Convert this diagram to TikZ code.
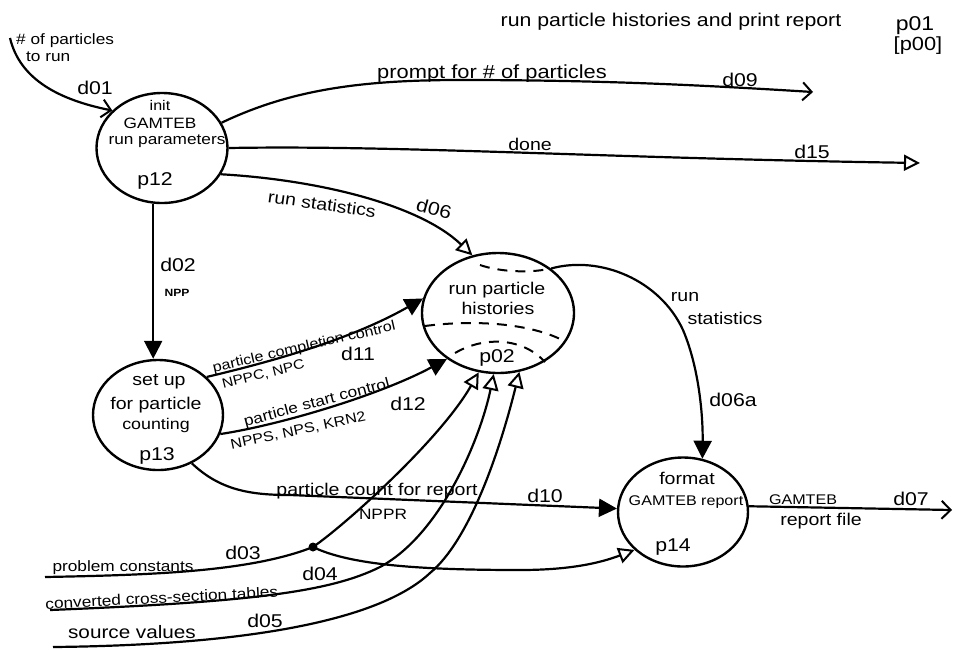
\documentclass[tikz,border=0pt]{standalone}
\usepackage{fontspec}
\setmainfont[FakeStretch=1.15]{Liberation Sans}
\usetikzlibrary{arrows.meta,shapes.geometric}
\begin{document}
\begin{tikzpicture}[x=1pt,y=-1pt,
  proc/.style={draw, ellipse, line width=2.4pt, inner sep=0pt},
  flow/.style={line width=2.2pt},
  fs/.style={font=\fontsize{#1}{#1}\selectfont},
  lbl/.style={fs=17, inner sep=0pt},
  sml/.style={fs=14, inner sep=0pt},
  big/.style={fs=18.5, inner sep=0pt},
  vtip/.style={-{Straight Barb[length=9pt,width=18pt,line width=2pt]}},
  otip/.style={-{Triangle[open,length=16pt,width=16pt,line width=2pt,fill=white]}},
  ftip/.style={-{Triangle[length=18pt,width=18pt]}},
  arcdash/.style={line width=2pt, dash pattern=on 10pt off 8pt},
]
\useasboundingbox (0,0) rectangle (953,649);

% processes
\node[proc, minimum width=131pt, minimum height=110pt] (p12) at (162,148) {};
\node[proc, minimum width=152pt, minimum height=120pt] (p02) at (498,313) {};
\node[proc, minimum width=130pt, minimum height=110pt] (p13) at (158,415) {};
\node[proc, minimum width=130pt, minimum height=109pt] (p14) at (683,512) {};

% free ends of the flows
\coordinate (in01) at (10,38);
\coordinate (out09) at (813,92);
\coordinate (out15) at (920,163);
\coordinate (out07) at (952,510);
\coordinate (s03) at (45,577);
\coordinate (s04) at (50,610);
\coordinate (s05) at (53,647);
\coordinate (dot) at (313,547);

% title
\node[lbl, fs=18.5] (title) at (671,22) {run particle histories and print report};
\node[big, fs=20] (pid) at (915,26) {p01};
\node[lbl, fs=19] (ppid) at (918,46) {[p00]};

% p12
\node[lbl, fs=14] (t12a) at (160,105) {init};
\node[lbl, fs=15] (t12b) at (160,123) {GAMTEB};
\node[lbl, fs=15] (t12c) at (167,141) {run parameters};
\node[big] (t12d) at (155,181) {p12};

% p02
\node[lbl] (t02a) at (497,290) {run particle};
\node[lbl] (t02b) at (498,308) {histories};
\node[big] (t02c) at (497,358) {p02};
\draw[arcdash] (480,265) .. controls (500,272) and (530,273) .. (548,269);
\draw[arcdash] (425,326) .. controls (470,320) and (530,322) .. (566,342);
\draw[arcdash] (455,353) .. controls (480,338) and (520,335) .. (545,362);

% p13
\node[lbl] (t13a) at (159,382) {set up};
\node[lbl] (t13b) at (156,405) {for particle};
\node[lbl, fs=15.5] (t13c) at (156,425) {counting};
\node[big] (t13d) at (157,456) {p13};

% p14
\node[lbl] (t14a) at (687,478) {format};
\node[lbl, fs=14] (t14b) at (686,502) {GAMTEB report};
\node[big] (t14c) at (673,547) {p14};

% d01
\draw[flow, vtip] (in01) .. controls (20,80) and (60,100) .. (p12.143);
\node[lbl, fs=15, anchor=west] (l01a) at (16,41) {\# of particles};
\node[lbl, fs=15, anchor=west] (l01b) at (26,57) {to run};
\node[big] (l01) at (95,88) {d01};

% d09
\draw[flow, vtip] (p12.23) .. controls (290,90) and (360,80) .. (460,80) .. controls (600,80) and (700,85) .. (out09);
\node[lbl, fs=19, anchor=base] (l09a) at (492,78) {prompt for \# of particles};
\node[big] (l09) at (740,80) {d09};

% d15
\draw[flow, otip] (p12.0) .. controls (400,145) and (600,158) .. (out15);
\node[lbl, anchor=base] (l15a) at (530,150) {done};
\node[big] (l15) at (812,152) {d15};

% d06
\draw[flow, otip] (p12.-24) .. controls (320,180) and (420,205) .. (p02.114);
\node[lbl, rotate=-8] (l06a) at (322,204) {run statistics};
\node[big, rotate=-15] (l06) at (434,209) {d06};

% d02
\draw[flow, ftip] (p12.-99) -- (p12.-99 |- p13.north);
\node[big] (l02) at (178,265) {d02};
\node[lbl, fs=10.5] (l02a) at (177,293) {\bfseries NPP};

% d11
\draw[flow, ftip] (p13.38) .. controls (270,362) and (350,340) .. (p02.169);
\node[sml, rotate=13, anchor=base] (l11a) at (305,351) {particle completion control};
\node[big] (l11) at (358,354) {d11};
\node[lbl, fs=13.5, rotate=14, anchor=north] (l11b) at (262,369) {NPPC, NPC};

% d12
\draw[flow, ftip] (p13.-17) .. controls (280,425) and (380,395) .. (p02.222);
\node[lbl, fs=15, rotate=15, anchor=base] (l12a) at (318,407) {particle start control};
\node[big] (l12) at (408,404) {d12};
\node[sml, rotate=12, anchor=north] (l12b) at (297,425) {NPPS, NPS, KRN2};

% d10
\draw[flow, ftip] (p13.-55) .. controls (220,490) and (250,495) .. (290,495) -- (p14.177);
\node[lbl, anchor=base] (l10a) at (377,495) {particle count for report};
\node[big] (l10) at (545,496) {d10};
\node[lbl, fs=15] (l10b) at (383,514) {NPPR};

% d06a
\draw[flow, ftip] (p02.40) .. controls (600,255) and (660,280) .. (683,330) .. controls (700,370) and (703,420) .. (p14.70);
\node[lbl] (l06b) at (685,297) {run};
\node[lbl] (l06c) at (725,318) {statistics};
\node[big] (l06d) at (733,400) {d06a};

% d07
\draw[flow, vtip] (p14.5) -- (out07);
\node[lbl, fs=14, anchor=base] (l07a) at (803,504) {GAMTEB};
\node[lbl] (l07b) at (821,521) {report file};
\node[big] (l07) at (911,499) {d07};

% d03, d04, d05
\draw[flow, otip] (s03) .. controls (150,575) and (250,572) .. (dot) .. controls (345,525) and (440,440) .. (p02.252);
\draw[flow, otip] (dot) .. controls (350,565) and (420,570) .. (520,570) .. controls (570,570) and (600,563) .. (p14.218);
\fill (dot) circle (4.5pt);
\draw[flow, otip] (s04) .. controls (250,602) and (330,592) .. (380,567) .. controls (440,535) and (480,440) .. (p02.266);
\draw[flow, otip] (s05) .. controls (250,645) and (380,620) .. (430,573) .. controls (470,540) and (500,450) .. (p02.290);
\node[lbl, fs=15, anchor=base] (l03a) at (123,571) {problem constants};
\node[big] (l03) at (243,553) {d03};
\node[lbl, fs=15, rotate=3, anchor=base] (l04a) at (162,603) {converted cross-section tables};
\node[big] (l04) at (320,574) {d04};
\node[lbl, fs=18, anchor=base] (l05a) at (132,638) {source values};
\node[big] (l05) at (265,621) {d05};
\end{tikzpicture}
\end{document}
